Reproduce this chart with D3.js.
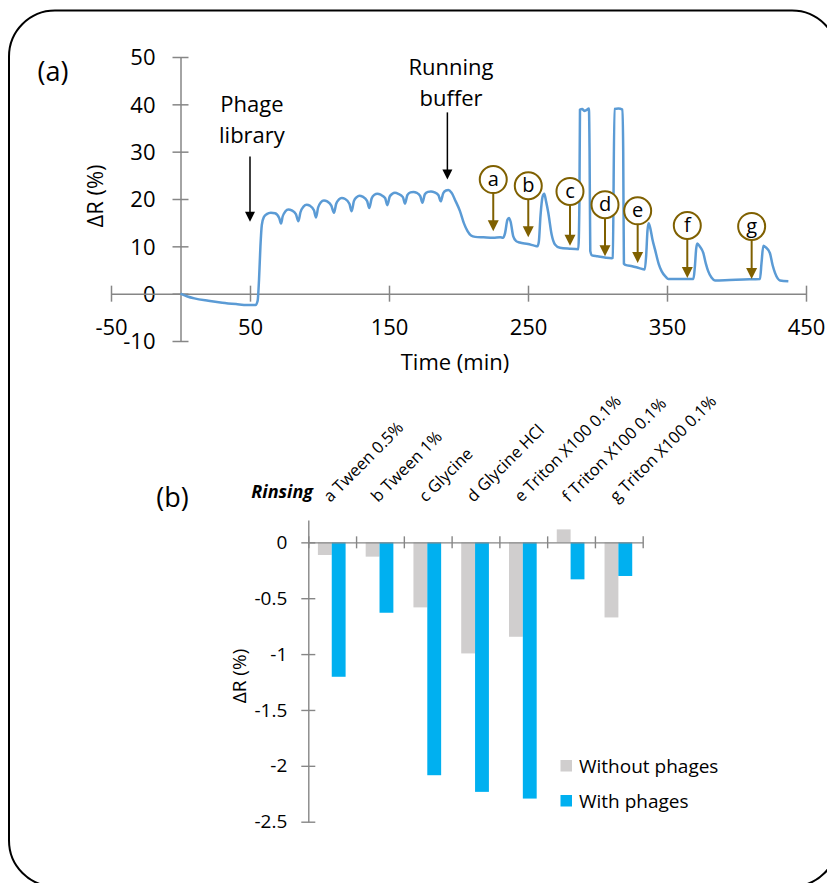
<!DOCTYPE html>
<html><head><meta charset="utf-8">
<script src="https://cdn.jsdelivr.net/npm/d3@7"></script>
<style>
body{margin:0;background:#fff;}
svg{display:block;font-family:"Open Sans",sans-serif;}
</style></head><body>
<svg id="c" width="827" height="883"></svg>
<script>
// ---------- Panel (a) data ----------
const timeMin = [0,5,10,20,30,40,48,54,55.5,56.5,57.5,58.5,60,62,65,68,71,72.3,
 73.5,75.5,77.6,80,83,84.8,86.3,88.5,90.8,93,96,97.5,99,101,103.2,105.5,108.5,110.4,
 112,114,116,118.5,121.5,123.1,124.8,126.8,128.7,131,134.2,135.8,137.5,139.5,141.6,144,147.2,148.8,
 150.5,152.4,154.3,156.7,160,161.5,163.2,165.4,167.5,170,172.5,174,175.8,178,180.2,182.8,185.6,187.2,
 189,191,192.7,195,198,201,204,206.5,209,212,218,225,230,232,233.5,235.2,236.3,237.5,239.4,241.5,244,250,255,256.8,
 257.8,259,260.5,261.7,263,264.6,267,269.4,273,280,286.2,287.0,287.4,289,290.5,292,293.8,294.3,294.8,296,300,306,310.2,
 311,312.2,315,318,318.5,319.0,320,325,330,334,335,336,336.8,338,339.5,341.4,344,346.2,349,351,360,369,
 370,371,371.8,373.5,376.1,378,379.7,382,384.5,395,405,416.9,418,419.3,421,424,426,427.7,431.3,437.3];
const deltaR = [0,-0.6,-1.0,-1.5,-1.9,-2.2,-2.4,-2.4,-1.5,3,10,14.5,16.2,16.8,17.1,17.0,16.0,14.8,
 16.3,17.4,17.8,17.6,16.8,15.3,17.2,18.4,18.8,18.6,17.6,16.1,18.2,19.3,19.7,19.5,18.6,17.1,
 19.0,19.9,20.2,20.0,19.0,17.4,19.6,20.4,20.7,20.5,19.6,18.1,20.1,20.9,21.1,20.9,20.2,18.7,
 20.5,21.1,21.3,21.1,20.4,19.0,20.8,21.4,21.5,21.3,20.6,19.2,21.0,21.5,21.6,21.4,20.8,19.5,
 21.2,21.8,21.9,21.3,19.5,17.5,14.8,13.2,12.3,12.0,11.9,11.8,11.9,11.8,12.8,15.6,16.0,15.2,12.1,11.1,10.8,10.5,10.1,10.0,
 11.0,16.5,20.5,21.1,19.5,17.1,12.5,10.4,9.7,9.5,9.4,20,38.9,39.0,38.6,38.8,39.1,30,9.0,8.1,7.9,7.6,7.5,
 7.6,39.0,39.1,38.9,30,6.3,6.1,5.8,5.4,5.1,8,13.5,14.9,13.8,11.5,9.3,6.3,4.7,3.6,3.1,3.1,3.1,
 5.5,9.5,10.6,10.0,8.6,6.3,4.7,3.4,2.8,2.9,3.0,3.1,6.5,10.1,9.8,8.6,6.0,4.4,2.8,2.6];

const xTicksA = [-50,50,150,250,350,450];
const yTicksA = [-10,0,10,20,30,40,50];

const markerLabels = ["a","b","c","d","e","f","g"];
const markerTime   = [225,250.2,280.2,305.4,328.9,364.6,410.9];
const markerCircle = [24.1,22.8,21.6,18.8,17.5,14.4,14.2];
const markerTip    = [13.2,11.9,10.1,7.9,6.5,3.3,3.1];

const noteLines = [["Phage","library"],["Running","buffer"]];
const noteTime  = [51.4,194.6];
const noteTextY = [[40,33.4],[47.8,41.2]];
const noteArrowTime = [50,192];
const noteArrowFrom = [29,38.3];
const noteArrowTo   = [15.2,24.1];

// ---------- Panel (b) data ----------
const rinseCats = ["a Tween 0.5%","b Tween 1%","c Glycine","d Glycine HCl","e Triton X100 0.1%","f Triton X100 0.1%","g Triton X100 0.1%"];
const withoutPhages = [-0.113,-0.128,-0.582,-0.994,-0.845,0.116,-0.672];
const withPhages    = [-1.203,-0.63,-2.084,-2.233,-2.293,-0.331,-0.301];
const seriesNames = ["Without phages","With phages"];
const yTicksB = [0,-0.5,-1,-1.5,-2,-2.5];
const yTickLabelsB = ["0","-0.5","-1","-1.5","-2","-2.5"];

// ---------- styles ----------
const axisCol = "#868686";
const lineCol = "#5B9BD5";
const brown = "#7F6000";
const grayBar = "#D0CECE";
const blueBar = "#00B0F0";

const svg = d3.select("#c");
svg.append("rect").attr("width",827).attr("height",883).attr("fill","#fff");
svg.append("rect").attr("x",9).attr("y",10.5).attr("width",829).attr("height",876)
  .attr("rx",46).attr("fill","none").attr("stroke","#000").attr("stroke-width",2);

// ================= Panel (a) =================
const x = d3.scaleLinear().domain([-50,450]).range([111,806]);
const y = d3.scaleLinear().domain([-10,50]).range([341,57]);

const gA = svg.append("g");
const yAx = gA.append("g").attr("transform",`translate(${x(0)},0)`)
  .call(d3.axisLeft(y).tickValues(yTicksA).tickSizeInner(8).tickSizeOuter(0).tickPadding(17).tickFormat(d=>String(d)));
const xAx = gA.append("g").attr("transform",`translate(0,${y(0)})`)
  .call(d3.axisBottom(x).tickValues(xTicksA).tickSizeInner(8).tickSizeOuter(0).tickPadding(18).tickFormat(d=>String(d)));
[yAx,xAx].forEach(g=>{
  g.select(".domain").attr("stroke",axisCol).attr("stroke-width",1.5);
  g.selectAll(".tick line").attr("stroke",axisCol).attr("stroke-width",1.5);
  g.selectAll(".tick text").attr("fill","#000").style("font-size","22px").style("font-family","'Open Sans',sans-serif");
});
yAx.selectAll(".tick line").attr("x1",-8).attr("x2",8);
xAx.selectAll(".tick line").attr("y1",-8).attr("y2",8);
yAx.selectAll(".tick text").attr("dy","0.35em");

gA.append("text").attr("transform","translate(95,196) rotate(-90)").attr("text-anchor","middle")
  .attr("dy","0.35em").style("font-size","22px").text("ΔR (%)");
gA.append("text").attr("x",455).attr("y",362).attr("text-anchor","middle").attr("dy","0.35em")
  .style("font-size","22px").text("Time (min)");
gA.append("text").attr("x",53).attr("y",72).attr("text-anchor","middle").attr("dy","0.35em")
  .style("font-size","27px").text("(a)");

const pts = timeMin.map((t,i)=>[t,deltaR[i]]);
gA.append("path").datum(pts)
  .attr("d",d3.line().x(d=>x(d[0])).y(d=>y(d[1])).curve(d3.curveMonotoneX))
  .attr("fill","none").attr("stroke",lineCol).attr("stroke-width",2.5).attr("stroke-linejoin","round");

// notes
noteLines.forEach((lines,i)=>{
  lines.forEach((ln,j)=>{
    gA.append("text").attr("x",x(noteTime[i])).attr("y",y(noteTextY[i][j])).attr("text-anchor","middle")
      .attr("dy","0.35em").style("font-size","22px").text(ln);
  });
  const ax = x(noteArrowTime[i]), y0 = y(noteArrowFrom[i]), y1 = y(noteArrowTo[i]);
  gA.append("line").attr("x1",ax).attr("x2",ax).attr("y1",y0).attr("y2",y1-9).attr("stroke","#000").attr("stroke-width",1.5);
  gA.append("path").attr("d",`M${ax-5},${y1-10}L${ax+5},${y1-10}L${ax},${y1}Z`).attr("fill","#000");
});

// markers
markerLabels.forEach((lab,i)=>{
  const mx = x(markerTime[i]), cy = y(markerCircle[i]), tip = y(markerTip[i]);
  const r = 13.5;
  gA.append("line").attr("x1",mx).attr("x2",mx).attr("y1",cy+r).attr("y2",tip-9)
    .attr("stroke",brown).attr("stroke-width",2);
  gA.append("path").attr("d",`M${mx-5.5},${tip-11}L${mx+5.5},${tip-11}L${mx},${tip}Z`).attr("fill",brown);
  gA.append("circle").attr("cx",mx).attr("cy",cy).attr("r",r).attr("fill","#fff")
    .attr("stroke",brown).attr("stroke-width",2);
  gA.append("text").attr("x",mx).attr("y",cy).attr("text-anchor","middle").attr("dy","0.32em")
    .style("font-size","20px").text(lab);
});

// ================= Panel (b) =================
const yb = d3.scaleLinear().domain([-2.5,0.2]).range([821.7,520]);
const xb = d3.scaleBand().domain(rinseCats).range([308.3,642.7]).padding(0);
const xs = d3.scaleBand().domain(seriesNames).range([9.6,37.3]).padding(0);
const xIdx = d3.scaleLinear().domain([0,rinseCats.length]).range([308.3,642.7]);
const gB = svg.append("g");

const seriesVals = [withoutPhages, withPhages];
const seriesCols = [grayBar, blueBar];
seriesNames.forEach((s,si)=>{
  gB.append("g").selectAll("rect").data(rinseCats).join("rect")
    .attr("x",c=>xb(c)+xs(s)).attr("width",xs.bandwidth())
    .attr("y",(c,i)=>Math.min(yb(seriesVals[si][i]),yb(0)))
    .attr("height",(c,i)=>Math.abs(yb(seriesVals[si][i])-yb(0)))
    .attr("fill",seriesCols[si]);
});

const ybAx = gB.append("g").attr("transform",`translate(${xIdx(0)},0)`)
  .call(d3.axisLeft(yb).tickValues(yTicksB).tickSizeInner(7).tickSizeOuter(0).tickPadding(14)
    .tickFormat((d,i)=>yTickLabelsB[i]));
const xbAx = gB.append("g").attr("transform",`translate(0,${yb(0)})`)
  .call(d3.axisBottom(xIdx).tickValues(d3.range(rinseCats.length+1)).tickSizeInner(6).tickSizeOuter(0).tickFormat(""));
[ybAx,xbAx].forEach(g=>{
  g.select(".domain").attr("stroke",axisCol).attr("stroke-width",1.4);
  g.selectAll(".tick line").attr("stroke",axisCol).attr("stroke-width",1.4);
  g.selectAll(".tick text").attr("fill","#000").style("font-size","19px").style("font-family","'Open Sans',sans-serif");
});
ybAx.selectAll(".tick line").attr("x1",-7).attr("x2",7);
xbAx.selectAll(".tick line").attr("y1",-6).attr("y2",6);

// category labels
gB.append("g").selectAll("text").data(rinseCats).join("text")
  .attr("transform",c=>`translate(${xb(c)+xb.bandwidth()/2-2},${503}) rotate(-45)`)
  .attr("text-anchor","start").style("font-size","16.5px").text(c=>c);

gB.append("text").attr("x",313).attr("y",498).attr("text-anchor","end")
  .style("font-size","18px").style("font-weight","bold").style("font-style","italic").text("Rinsing");
gB.append("text").attr("x",172.5).attr("y",498).attr("text-anchor","middle").attr("dy","0.35em")
  .style("font-size","27px").text("(b)");
gB.append("text").attr("transform","translate(239,676) rotate(-90)").attr("text-anchor","middle")
  .attr("dy","0.35em").style("font-size","19px").text("ΔR (%)");

// legend
const legY = [766,801];
seriesNames.forEach((s,i)=>{
  gB.append("rect").attr("x",560.5).attr("y",legY[i]-6).attr("width",11.5).attr("height",11.5).attr("fill",seriesCols[i]);
  gB.append("text").attr("x",579).attr("y",legY[i]).attr("dy","0.35em").style("font-size","19px").text(s);
});
</script>
</body></html>
